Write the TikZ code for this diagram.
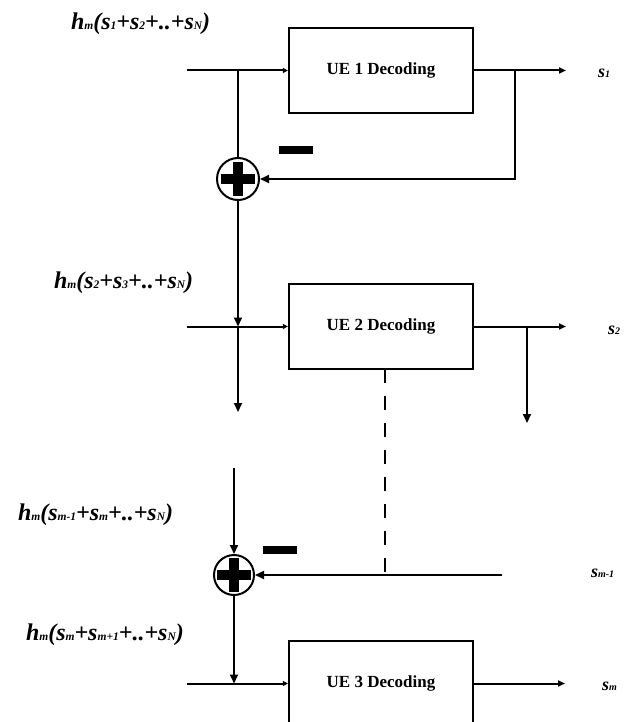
\documentclass[tikz,border=0pt]{standalone}
\usepackage{fontspec}
\setmainfont{Liberation Serif}
\usetikzlibrary{arrows.meta}
\begin{document}
\begin{tikzpicture}[x=1pt,y=-1pt,line width=2pt,
  decbox/.style={draw,line width=2.2pt,minimum width=184pt,minimum height=85pt,inner sep=0pt,font=\fontsize{17}{20}\selectfont\bfseries},
  sumnode/.style={draw,circle,line width=2pt,minimum size=42pt,inner sep=0pt},
  bigarr/.style={-{Triangle[length=9pt,width=8pt]}},
  outarr/.style={-{Triangle[length=7pt,width=6pt]}},
  inarr/.style={-{Triangle[length=5pt,width=5pt]}},
  lbl/.style={anchor=base west,inner sep=0pt,font=\fontsize{24}{26}\selectfont\bfseries\itshape},
  slbl/.style={anchor=base west,inner sep=0pt,font=\fontsize{18}{20}\selectfont\bfseries\itshape}
]
\useasboundingbox (0,0) rectangle (624,722);
\newcommand{\sbs}[1]{{\fontsize{11.5}{12}\selectfont #1}}
\newcommand{\ssb}[1]{{\fontsize{10}{11}\selectfont #1}}

% boxes
\node[decbox] (b1) at (381,70.5) {UE 1 Decoding};
\node[decbox] (b2) at (381,326.5) {UE 2 Decoding};
\node[decbox] (b3) at (381,683.5) {UE 3 Decoding};

% summing nodes
\node[sumnode] (s1n) at (238,179) {};
\node[sumnode,minimum size=40pt] (s2n) at (234,575) {};
\foreach \n in {s1n,s2n}{
  \fill ([xshift=-17pt,yshift=-5pt]\n.center) rectangle ([xshift=17pt,yshift=5pt]\n.center);
  \fill ([xshift=-5pt,yshift=-17pt]\n.center) rectangle ([xshift=5pt,yshift=17pt]\n.center);
}

% minus bars
\fill (279,146) rectangle (313,154);
\fill (263,546) rectangle (297,554);

% coordinates
\coordinate (in1) at (187,70.5);
\coordinate (j1) at (238,70.5);
\coordinate (in2) at (187,326.5);
\coordinate (j2) at (238,326.5);
\coordinate (d2) at (238,412);
\coordinate (in3) at (187,683.5);
\coordinate (j3) at (234,683.5);
\coordinate (o1) at (566,70.5);
\coordinate (f1) at (515,70.5);
\coordinate (f1b) at (515,179);
\coordinate (o2) at (566,326.5);
\coordinate (f2) at (527,326.5);
\coordinate (f2b) at (527,423);
\coordinate (dashtop) at (385,369);
\coordinate (dashbot) at (385,575);
\coordinate (fb2) at (502,575);
\coordinate (top2) at (234,468);
\coordinate (o3) at (565,683.5);

% stage 1
\draw[inarr] (in1) -- (b1.west);
\draw (j1) -- (s1n.north);
\draw[outarr] (b1.east) -- (o1);
\draw[bigarr] (f1) -- (f1b) -- (s1n.east);
\draw[bigarr] (s1n.south) -- (j2);

% stage 2
\draw[inarr] (in2) -- (b2.west);
\draw[bigarr] (j2) -- (d2);
\draw[outarr] (b2.east) -- (o2);
\draw[bigarr] (f2) -- (f2b);
\draw[dash pattern=on 14pt off 13pt] (dashtop) -- (dashbot);

% stage m
\draw[bigarr] (top2) -- (s2n.north);
\draw[bigarr] (fb2) -- (s2n.east);
\draw[bigarr] (s2n.south) -- (j3);
\draw[inarr] (in3) -- (b3.west);
\draw[outarr] (b3.east) -- (o3);

% labels
\node[lbl] (l1) at (70,30) {h\sbs{m}(s\sbs{1}+s\sbs{2}+..+s\sbs{N})};
\node[lbl] (l2) at (53,288) {h\sbs{m}(s\sbs{2}+s\sbs{3}+..+s\sbs{N})};
\node[lbl] (l3) at (17,520) {h\sbs{m}(s\sbs{m-1}+s\sbs{m}+..+s\sbs{N})};
\node[lbl] (l4) at (25,640) {h\sbs{m}(s\sbs{m}+s\sbs{m+1}+..+s\sbs{N})};

\node[slbl] (t1) at (597,78) {s\ssb{1}};
\node[slbl] (t2) at (607,334) {s\ssb{2}};
\node[slbl] (t3) at (590,577) {s\ssb{m-1}};
\node[slbl] (t4) at (601,690) {s\ssb{m}};
\end{tikzpicture}
\end{document}
